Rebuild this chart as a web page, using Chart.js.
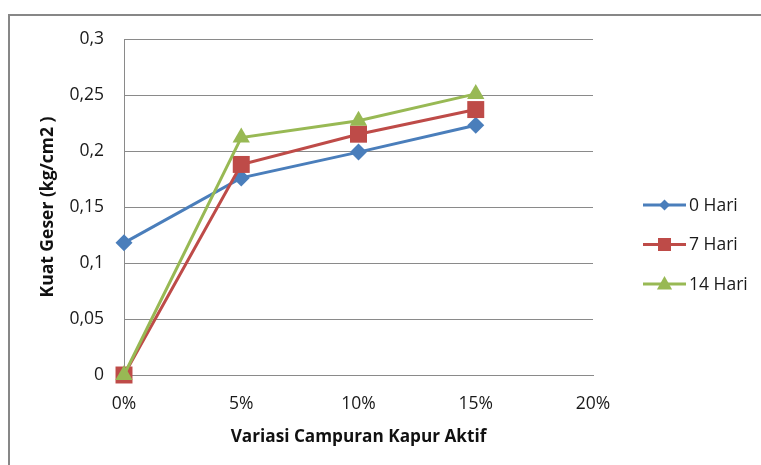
<!DOCTYPE html>
<html>
<head>
<meta charset="utf-8">
<script src="https://cdn.jsdelivr.net/npm/chart.js@4/dist/chart.umd.min.js"></script>
<style>
  html, body { margin: 0; padding: 0; background: #ffffff; }
  #wrap { position: relative; width: 761px; height: 465px; }
</style>
</head>
<body>
<div id="wrap"><canvas id="c" width="761" height="465"></canvas></div>
<script>
// Shear strength (kg/cm2) by active lime mix percentage, for each curing age
const mixPercent = [0, 5, 10, 15];
const seriesNames = ['0 Hari', '7 Hari', '14 Hari'];
const hari0 = [0.118, 0.176, 0.199, 0.223];
const hari7 = [0, 0.188, 0.215, 0.237];
const hari14 = [0, 0.212, 0.227, 0.251];

const FONT = '"Open Sans", "Liberation Sans", sans-serif';
const GRID = '#8a8a8a';
const TEXT = '#1a1a1a';

const toPoints = (vals) => vals.map((v, i) => ({ x: mixPercent[i], y: v }));

// Outer frame (top and left edges)
const framePlugin = {
  id: 'frame',
  beforeDraw(chart) {
    const ctx = chart.ctx;
    ctx.save();
    ctx.strokeStyle = '#878787';
    ctx.lineWidth = 2;
    ctx.beginPath();
    ctx.moveTo(9, 465);
    ctx.lineTo(9, 15);
    ctx.lineTo(761, 15);
    ctx.stroke();
    ctx.restore();
  }
};

function marker(ctx, style, x, y, r, color) {
  ctx.fillStyle = color;
  ctx.beginPath();
  if (style === 'rectRot') {
    ctx.moveTo(x, y - r); ctx.lineTo(x + r, y); ctx.lineTo(x, y + r); ctx.lineTo(x - r, y);
  } else if (style === 'rect') {
    ctx.rect(x - r, y - r, 2 * r, 2 * r);
  } else {
    ctx.moveTo(x, y - r); ctx.lineTo(x + r * 0.95, y + r * 0.7); ctx.lineTo(x - r * 0.95, y + r * 0.7);
  }
  ctx.closePath();
  ctx.fill();
}

// Legend on the right: line with marker, then label
const sideLegend = {
  id: 'sideLegend',
  afterDraw(chart) {
    const ctx = chart.ctx;
    const sizes = { rectRot: 5.5, rect: 6.5, triangle: 8 };
    ctx.save();
    chart.data.datasets.forEach((ds, i) => {
      const y = 205 + i * 39.5;
      ctx.strokeStyle = ds.borderColor;
      ctx.lineWidth = 3;
      ctx.beginPath();
      ctx.moveTo(643, y);
      ctx.lineTo(686, y);
      ctx.stroke();
      marker(ctx, ds.pointStyle, 664.5, y, sizes[ds.pointStyle], ds.borderColor);
      ctx.fillStyle = TEXT;
      ctx.font = '17.5px ' + FONT;
      ctx.textAlign = 'left';
      ctx.textBaseline = 'middle';
      ctx.fillText(ds.label, 689, y + 1);
    });
    ctx.restore();
  }
};

new Chart(document.getElementById('c'), {
  type: 'line',
  data: {
    datasets: [
      { label: seriesNames[0], data: toPoints(hari0), borderColor: '#4a7ebb', backgroundColor: '#4a7ebb',
        pointStyle: 'rectRot', pointRadius: 8.5, order: 3 },
      { label: seriesNames[1], data: toPoints(hari7), borderColor: '#be4b48', backgroundColor: '#be4b48',
        pointStyle: 'rect', pointRadius: 12, order: 2 },
      { label: seriesNames[2], data: toPoints(hari14), borderColor: '#98b954', backgroundColor: '#98b954',
        pointStyle: 'triangle', pointRadius: 10, order: 1 }
    ].map(d => Object.assign({ borderWidth: 3, pointBorderWidth: 0, pointHoverRadius: 0,
      fill: false, tension: 0, clip: false }, d))
  },
  options: {
    responsive: false,
    animation: false,
    events: [],
    layout: { padding: { left: 10, top: 39, right: 168, bottom: 0 } },
    plugins: { legend: { display: false }, tooltip: { enabled: false } },
    scales: {
      x: {
        type: 'linear', min: 0, max: 20,
        afterFit(s) { s.height = 90; },
        grid: { display: false, drawTicks: false },
        border: { display: true, color: GRID, width: 1 },
        ticks: { stepSize: 5, padding: 19, color: TEXT, font: { family: FONT, size: 17.5 },
          callback: v => v + '%' },
        title: { display: true, text: 'Variasi Campuran Kapur Aktif', color: '#111',
          font: { family: FONT, size: 17.2, weight: 'bold' }, padding: { top: 0, bottom: 18 } }
      },
      y: {
        min: 0, max: 0.3,
        afterFit(s) { s.width = 114; },
        grid: { color: GRID, lineWidth: 1, drawTicks: false },
        border: { display: true, color: GRID, width: 1 },
        ticks: { stepSize: 0.05, padding: 20, color: TEXT, font: { family: FONT, size: 17.5 },
          callback: v => String(Number(v.toFixed(2))).replace('.', ',') },
        title: { display: true, text: 'Kuat Geser (kg/cm2 )', color: '#111',
          font: { family: FONT, size: 17.5, weight: 'bold' }, padding: { top: 28, bottom: 0 } }
      }
    }
  },
  plugins: [framePlugin, sideLegend]
});
</script>
</body>
</html>
